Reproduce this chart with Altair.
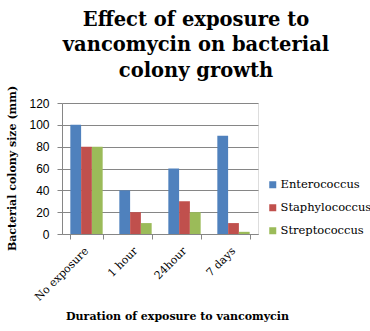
import altair as alt
import pandas as pd

categories = ["No exposure", "1 hour", "24hour", "7 days"]
series = ["Enterococcus", "Staphylococcus", "Streptococcus"]
enterococcus = [100, 40, 60, 90]
staphylococcus = [80, 20, 30, 10]
streptococcus = [80, 10, 20, 2]
colors = ["#4F81BD", "#C0504D", "#9BBB59"]

rows = []
for s, vals in zip(series, [enterococcus, staphylococcus, streptococcus]):
    for c, v in zip(categories, vals):
        rows.append({"cat": c, "series": s, "value": v})
df = pd.DataFrame(rows)

SERIF = "DejaVu Serif"

chart = alt.Chart(df).mark_bar().encode(
    x=alt.X("cat:N", sort=categories,
            scale=alt.Scale(paddingInner=0.34, paddingOuter=0.17),
            axis=alt.Axis(title="Duration of exposure to vancomycin",
                          labelAngle=-45, labelAlign="right", labelBaseline="middle",
                          labelFont=SERIF, labelFontSize=11, labelColor="#000000",
                          labelPadding=10,
                          tickBand="extent", tickSize=5, tickColor="#868686",
                          domainColor="#868686", grid=False,
                          titleFont=SERIF, titleFontSize=11, titleFontWeight="bold",
                          titleColor="#000000", titleX=115, titleY=82,
                          titleAlign="center", titleBaseline="middle")),
    xOffset=alt.XOffset("series:N", sort=series),
    y=alt.Y("value:Q", scale=alt.Scale(domain=[0, 120]),
            axis=alt.Axis(title="Bacterial colony size (mm)", values=[0, 20, 40, 60, 80, 100, 120],
                          labelFont="Liberation Sans", labelFontSize=12, labelColor="#000000",
                          labelPadding=8, tickSize=5, tickColor="#868686",
                          domainColor="#868686", gridColor="#868686",
                          titleFont=SERIF, titleFontSize=11, titleFontWeight="bold",
                          titleColor="#000000", titleX=-50, titleY=65,
                          titleAlign="center", titleBaseline="middle")),
    color=alt.Color("series:N", sort=series,
                    scale=alt.Scale(domain=series, range=colors),
                    legend=alt.Legend(title=None, orient="none", legendX=205, legendY=76,
                                      symbolType="square", symbolSize=49,
                                      symbolStrokeWidth=0, labelFont=SERIF,
                                      labelFontSize=11.5, labelColor="#000000",
                                      rowPadding=10, labelOffset=2)),
).properties(
    width=196, height=131,
    padding={"left": 62, "top": 103, "right": 112, "bottom": 97},
    autosize=alt.AutoSizeParams(type="none"),
    title=alt.TitleParams(
        text=["Effect of exposure to", "vancomycin on bacterial", "colony growth"],
        font=SERIF, fontSize=19.5, fontWeight="bold", color="#000000",
        anchor="middle", frame="group", dx=36, offset=4, lineHeight=25.5),
).configure_view(stroke=None).configure(background="white")

chart.save("out.html", embed_options={"renderer": "svg", "actions": False})
